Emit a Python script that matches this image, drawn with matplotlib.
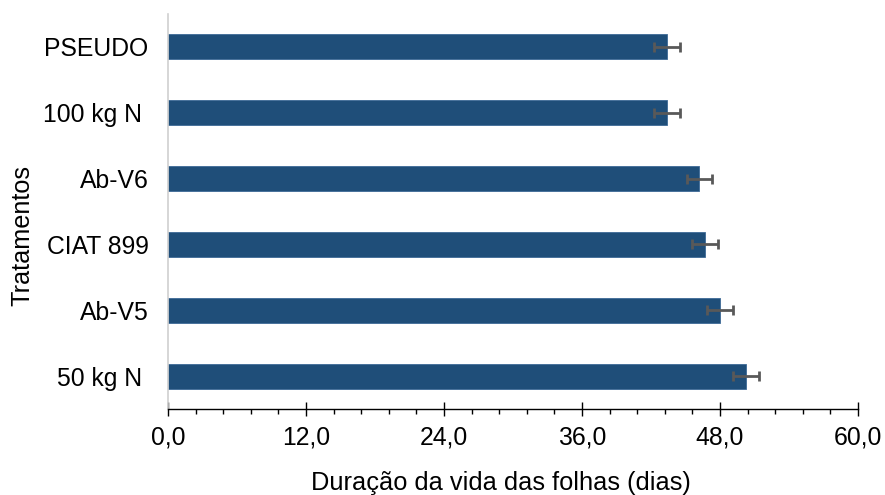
import matplotlib
matplotlib.use("Agg")
import matplotlib.pyplot as plt
from matplotlib.ticker import MultipleLocator, FuncFormatter

plt.rcParams['font.family'] = ['Liberation Sans', 'DejaVu Sans']

# Treatments listed top to bottom
tratamentos = ["PSEUDO", "100 kg N ", "Ab-V6", "CIAT 899", "Ab-V5", "50 kg N "]
duracao = [43.4, 43.4, 46.2, 46.7, 48.0, 50.3]
erro = [1.15, 1.15, 1.1, 1.13, 1.1, 1.13]

W, H = 885, 495
fig = plt.figure(figsize=(W / 100, H / 100), dpi=100)
ax = fig.add_axes([168 / W, 1 - 409 / H, (858 - 168) / W, (409 - 14) / H])

pos = list(range(len(tratamentos)))
ax.barh(pos, duracao, height=0.38, color="#1f4e79", edgecolor="#3d6a96",
        linewidth=0.6, xerr=erro,
        error_kw=dict(ecolor="#595959", elinewidth=2.0, capsize=3.8, capthick=2.0))

ax.set_ylim(len(tratamentos) - 0.5, -0.5)
ax.set_yticks(pos)
ax.set_yticklabels(tratamentos, fontsize=17.8)
ax.tick_params(axis="y", length=0, pad=14)

ax.set_xlim(0, 60)
ax.xaxis.set_major_locator(MultipleLocator(12))
ax.xaxis.set_minor_locator(MultipleLocator(2.4))
ax.xaxis.set_major_formatter(FuncFormatter(lambda v, p: f"{v:.1f}".replace(".", ",")))
ax.tick_params(axis="x", which="major", direction="inout", length=9.5, width=1.0,
               labelsize=17.8, pad=7, color="black")
ax.tick_params(axis="x", which="minor", direction="out", length=3.6, width=1.0, color="black")

for s in ("top", "right"):
    ax.spines[s].set_visible(False)
ax.spines["left"].set_color("#d0d0d0")
ax.spines["left"].set_linewidth(1.2)
ax.spines["bottom"].set_color("black")
ax.spines["bottom"].set_linewidth(1.0)

# Axis titles
fig.text(500.5 / W, 1 - 490 / H, "Duração da vida das folhas (dias)",
         fontsize=18.3, ha="center", va="baseline")
fig.text(22 / W, 1 - 236 / H, "Tratamentos", fontsize=18.2,
         rotation=90, ha="center", va="center")

fig.savefig("out.png", dpi=100)
